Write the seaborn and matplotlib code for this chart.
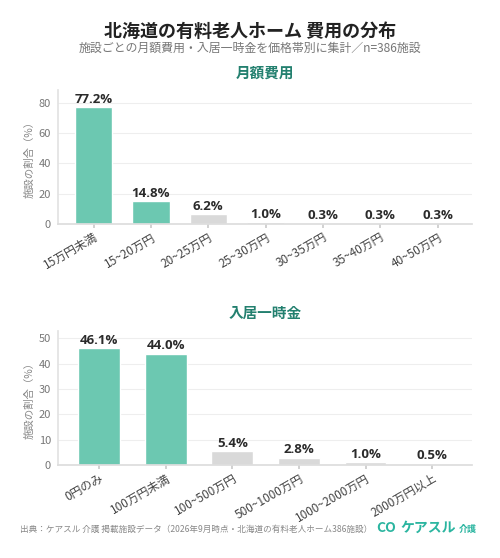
import seaborn as sns
import pandas as pd
import matplotlib.pyplot as plt

# 月額費用
monthly_labels = ["15万円未満", "15~20万円", "20~25万円", "25~30万円", "30~35万円", "35~40万円", "40~50万円"]
monthly_values = [77.2, 14.8, 6.2, 1.0, 0.3, 0.3, 0.3]

# 入居一時金
initial_labels = ["0円のみ", "100万円未満", "100~500万円", "500~1000万円", "1000~2000万円", "2000万円以上"]
initial_values = [46.1, 44.0, 5.4, 2.8, 1.0, 0.5]

TEAL = "#6cc8b1"
GREY = "#d9d9d9"
DARK_TEAL = "#23806f"

sns.set_theme(style="white")
plt.rcParams["font.family"] = ["Noto Sans CJK JP", "DejaVu Sans"]


def draw_panel(ax, labels, values, title, ylim, yticks, width):
    df = pd.DataFrame({"label": labels, "value": values})
    colors = [TEAL if i < 2 else GREY for i in range(len(labels))]
    sns.barplot(data=df, x="label", y="value", hue="label", palette=colors,
                legend=False, width=width, saturation=1, ax=ax)
    for i, v in enumerate(values):
        ax.text(i, v + ylim * 0.01, f"{v:.1f}%", ha="center", va="bottom",
                fontsize=9.5, fontweight="bold", color="#2b2b2b",
                family=["Open Sans", "DejaVu Sans"])
    ax.set_ylim(0, ylim)
    ax.set_xlim(-0.62, len(labels) - 0.4)
    ax.set_yticks(yticks)
    ax.yaxis.grid(True, color="#eeeeee", linewidth=0.8)
    ax.set_axisbelow(True)
    for s in ["top", "right"]:
        ax.spines[s].set_visible(False)
    ax.spines["left"].set_color("#e3e3e3")
    ax.spines["bottom"].set_color("#dddddd")
    ax.tick_params(axis="y", labelsize=8, labelcolor="#777777", length=3, color="#dddddd", pad=2)
    ax.tick_params(axis="x", labelsize=8.5, labelcolor="#444444", length=3, color="#cccccc", pad=2, bottom=True)
    plt.setp(ax.get_xticklabels(), rotation=30, ha="right", rotation_mode="anchor")
    ax.set_xlabel("")
    ax.set_ylabel("施設の割合（%）", fontsize=7.5, color="#888888", labelpad=3)
    ax.set_title(title, fontsize=10.5, fontweight="bold", color=DARK_TEAL, pad=9)


fig = plt.figure(figsize=(5.0, 5.58), dpi=100)
ax1 = fig.add_axes([0.116, 0.599, 0.828, 0.240])
ax2 = fig.add_axes([0.116, 0.167, 0.828, 0.240])

draw_panel(ax1, monthly_labels, monthly_values, "月額費用", 88.8, [0, 20, 40, 60, 80], 0.65)
draw_panel(ax2, initial_labels, initial_values, "入居一時金", 53.0, [0, 10, 20, 30, 40, 50], 0.63)

fig.text(0.5, 0.943, "北海道の有料老人ホーム 費用の分布", ha="center", va="center",
         fontsize=13, fontweight="bold", color="#222222")
fig.text(0.5, 0.914, "施設ごとの月額費用・入居一時金を価格帯別に集計／n=386施設", ha="center", va="center",
         fontsize=8.6, color="#777777")
fig.text(0.04, 0.052, "出典：ケアスル 介護 掲載施設データ（2026年9月時点・北海道の有料老人ホーム386施設）",
         ha="left", va="center", fontsize=6.2, color="#888888")
fig.text(0.752, 0.054, "CO", ha="left", va="center", fontsize=10, color="#2bb5a0", fontweight="bold")
fig.text(0.800, 0.054, "ケアスル", ha="left", va="center", fontsize=10, color="#2bb5a0", fontweight="bold")
fig.text(0.918, 0.052, "介護", ha="left", va="center", fontsize=6.5, color="#2bb5a0", fontweight="bold")

fig.savefig("out.png", dpi=100, facecolor="white")
